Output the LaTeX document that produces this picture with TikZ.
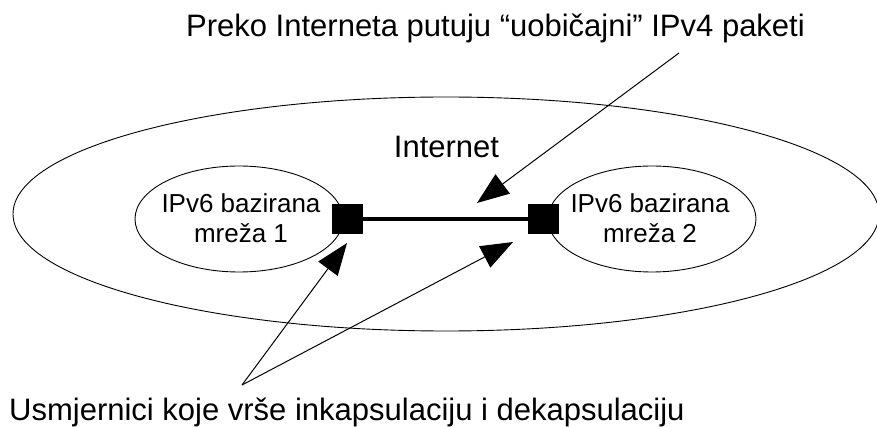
\documentclass[tikz,border=0pt]{standalone}
\usepackage{fontspec}
\setmainfont{Liberation Sans}
\usetikzlibrary{shapes.geometric,arrows.meta}
\begin{document}
\begin{tikzpicture}[x=1pt,y=-1pt,
  net/.style={ellipse,draw,line width=0.9pt,inner sep=0pt},
  router/.style={draw=none,fill=black,minimum width=31pt,minimum height=30pt,inner sep=0pt},
  bigtext/.style={font=\fontsize{31}{37}\selectfont,inner sep=0pt},
  smalltext/.style={font=\fontsize{26}{30}\selectfont,align=center,inner sep=0pt},
  pointer/.style={line width=1pt,-{Triangle[length=32pt,width=24pt]}}]
\useasboundingbox (0,0) rectangle (877,427);
\node[net,minimum width=866pt,minimum height=234pt] (inet) at (446,214) {};
\node[net,minimum width=208pt,minimum height=106pt] (net1) at (239,219) {};
\node[net,minimum width=208pt,minimum height=106pt] (net2) at (652,219) {};
\node[smalltext] (t1) at (241,218) {IPv6 bazirana\\mreža 1};
\node[smalltext] (t2) at (650,218) {IPv6 bazirana\\mreža 2};
\node[router] (r1) at (347.5,219) {};
\node[router] (r2) at (543.5,219) {};
\draw[line width=4pt] (r1) -- (r2);
\node[bigtext,anchor=base] (inetlabel) at (446.5,158) {Internet};
\node[bigtext,anchor=base] (top) at (495.5,37) {Preko Interneta putuju “uobičajni” IPv4 paketi};
\node[bigtext,anchor=base west] (bottom) at (9,420) {Usmjernici koje vrše inkapsulaciju i dekapsulaciju};
\coordinate (s1) at (679,53);
\coordinate (e1) at (477,203);
\coordinate (s2) at (242,385);
\coordinate (e2) at (347,243);
\coordinate (e3) at (513,242);
\draw[pointer] (s1) -- (e1);
\draw[pointer] (s2) -- (e2);
\draw[pointer] (s2) -- (e3);
\end{tikzpicture}
\end{document}
